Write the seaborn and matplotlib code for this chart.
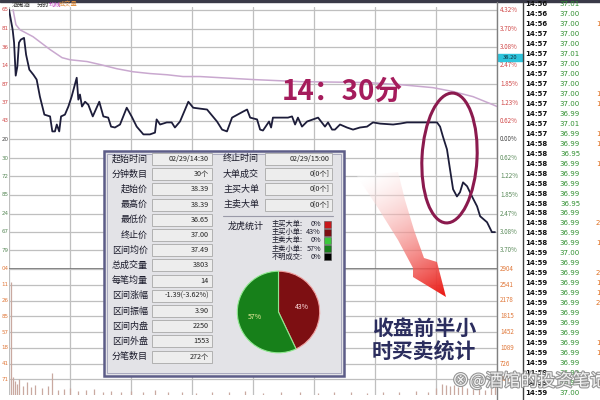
import numpy as np
import pandas as pd
import matplotlib
matplotlib.use("Agg")
import matplotlib.pyplot as plt
import seaborn as sns
from matplotlib.patches import Rectangle, Ellipse, Polygon
import matplotlib.patheffects as pe

sns.set_theme(style="white")
plt.rcParams['font.family'] = ['Noto Sans CJK SC', 'DejaVu Sans']

# ---- intraday price line (minute, % change) ----
price_min = [0, 1.8, 2.5, 3.3, 4.1, 4.9, 5.8, 7.4, 8.4, 10.0, 12.0, 13.6, 15.2, 17.4, 20.2,
             21.3, 22.6, 23.5, 24.7, 25.6, 27.5, 29.2, 30.8, 33.3, 34.1, 34.9, 35.9, 37.4,
             39.0, 41.2, 44.4, 46.4, 48.8, 50.2, 52.1, 54.6, 57.9, 60.3, 62.8, 66.1, 69.3,
             71.8, 72.6, 74.3, 77.6, 80.0, 81.6, 84.1, 86.6, 88.2, 90.6, 93.9, 97.4, 102.3,
             104.8, 107.2, 109.7, 115.1, 117.1, 118.6, 122.0, 123.5, 124.9, 127.9, 128.9,
             129.8, 133.3, 137.2, 139.2, 140.7, 142.1, 144.1, 146.6, 149.5, 152.0, 155.4,
             156.9, 158.9, 160.3, 162.8, 166.2, 169.2, 172.6, 176.1, 179.0, 182.5, 188.9,
             192.3, 195.7, 202.1, 207.0, 210.5, 212.0, 213.4, 215.4, 216.9, 218.4, 220.3,
             221.8, 223.3, 225.3, 227.7, 230.2, 231.7, 235.1, 237.5, 239.0]
price_pct = [4.33, 3.66, 3.23, 2.13, 2.43, 3.23, 3.33, 3.39, 2.83, 2.33, 2.16, 2.00, 1.43, 0.83,
             0.77, 0.27, 0.27, 0.50, 0.27, 0.77, 0.83, 1.10, 1.43, 2.06, 1.33, 1.50, 1.10, 1.26,
             1.16, 0.77, 1.26, 0.77, 0.73, 0.43, 0.40, 0.50, 1.06, 0.77, 0.43, 0.17, 0.17,
             0.23, 0.67, 0.50, 0.57, 0.57, 0.40, 0.60, 1.00, 1.26, 1.06, 1.03, 1.00, 0.60,
             0.33, 0.27, 0.73, 0.93, 1.00, 0.73, 0.67, 0.33, 0.30, 0.60, 0.40, 0.73, 0.73,
             0.73, 0.77, 0.50, 0.73, 0.43, 0.60, 0.67, 0.73, 0.43, 0.57, 0.33, 0.33, 0.50,
             0.40, 0.33, 0.40, 0.43, 0.57, 0.53, 0.50, 0.53, 0.57, 0.57, 0.57, 0.57, 0.43,
             0.10, -0.33, -1.00, -1.66, -1.90, -1.76, -1.43, -1.56, -1.90, -2.23, -2.56,
             -2.76, -3.09, -3.09]

# ---- average price line ----
avg_min = [2.0, 3.4, 5.4, 11.8, 20.2, 26.1, 30.0, 38.4, 44.8, 53.1, 61.0, 69.3, 77.7, 85.6,
           93.9, 120.0, 143.1, 176.1, 192.3, 208.5, 218.4, 228.2, 238.0, 240.0]
avg_pct = [4.33, 3.83, 3.66, 3.43, 3.00, 2.73, 2.66, 2.60, 2.50, 2.36, 2.26, 2.20, 2.16, 2.10,
           2.10, 2.00, 1.93, 1.90, 1.83, 1.73, 1.60, 1.43, 1.16, 1.10]

# ---- volume ----
vol_min = [1, 2, 3, 4, 5, 7, 9, 11, 13, 16, 19, 21, 24, 27, 30, 34, 38, 42, 46, 50, 55, 60, 66,
           72, 78, 85, 92, 100, 108, 116, 125, 134, 143, 152, 160, 168, 176, 184, 192, 200,
           206, 210, 213, 215, 217, 219, 221, 223, 225, 228, 231, 234, 237, 239]
vol_val = [2600, 420, 330, 250, 380, 210, 300, 180, 240, 150, 200, 510, 120, 140, 160, 90, 110,
           130, 80, 100, 70, 90, 60, 110, 70, 80, 50, 70, 60, 90, 50, 60, 70, 40, 60, 80, 50,
           70, 60, 90, 80, 150, 260, 230, 200, 240, 180, 210, 160, 140, 170, 120, 150, 220]

# ---- axis labels ----
pct_ticks = [4.32, 3.70, 3.08, 2.47, 1.85, 1.23, 0.62, 0.00, -0.62, -1.23, -1.85, -2.47, -3.08, -3.70]
pct_labels = ["4.32%", "3.70%", "3.08%", "2.47%", "1.85%", "1.23%", "0.62%", "0.00%",
              "0.62%", "1.22%", "1.85%", "2.47%", "3.08%", "3.70%"]
left_labels = ["65", "81", "36", "14", "87", "37", "43", "20", "30", "72", "85", "24", "67", "79"]
vol_ticks = [2904, 2541, 2178, 1815, 1452, 1089, 726, 363]
vol_left = ["04", "11", "26", "85", "57", "18", "41", "71"]

# ---- tick tape on the right ----
tape_time = ["14:56"] * 3 + ["14:57"] * 11 + ["14:58"] * 11 + ["14:59"] * 15
tape_price = ["37.01", "37.00", "37.00", "37.00", "37.00", "37.01", "37.00", "37.00", "37.00",
              "37.00", "37.00", "36.99", "37.01", "36.99", "36.99", "36.95", "36.99", "36.99",
              "36.99", "36.99", "36.95", "36.99", "36.99", "36.99", "36.99", "37.00", "36.99",
              "36.99", "36.99", "36.99", "36.99", "36.99", "36.99", "36.99", "36.99", "36.99",
              "36.99", "36.99", "36.99", "37.00"]
tape_vol = ["", "", "1", "", "", "", "", "", "", "1", "1", "", "", "1", "1", "", "1", "", "",
            "", "", "", "2", "", "1", "", "", "2", "1", "1", "2", "", "", "", "1", "1", "", "",
            "1", ""]

# ---- statistics panel ----
left_names = ["起始时间", "分钟数目", "起始价", "最高价", "最低价", "终止价", "区间均价",
              "总成交量", "每笔均量", "区间涨幅", "区间振幅", "区间内盘", "区间外盘", "分笔数目"]
left_values = ["02/29/14:30", "30个", "38.39", "38.39", "36.65", "37.00", "37.49", "3803",
               "14", "-1.39(-3.62%)", "3.90", "2250", "1553", "272个"]
right_names = ["终止时间", "大单成交", "主买大单", "主卖大单"]
right_values = ["02/29/15:00", "0[0个]", "0[0个]", "0[0个]"]
pie_names = ["主买大单", "主买小单", "主卖大单", "主卖小单", "不明成交"]
pie_share = [0, 43, 0, 57, 0]
pie_colors = ["#c8191c", "#7d0f12", "#3cc83c", "#17801a", "#000000"]

W, H = 600, 400


def px(x0, y0, x1, y1):
    return [x0 / W, 1 - y1 / H, (x1 - x0) / W, (y1 - y0) / H]


fig = plt.figure(figsize=(6, 4), dpi=100)
fig.patch.set_facecolor('white')

grid_c = '#bfbfbf'

# price panel
ax_p = fig.add_axes(px(9, 7, 497, 269))
ax_p.set_xlim(0, 240)
ax_p.set_ylim(-4.32, 4.42)
ax_p.set_xticks(np.arange(0, 241, 30))
ax_p.set_yticks(pct_ticks)
ax_p.grid(True, color=grid_c, lw=0.9)
ax_p.tick_params(length=0, labelleft=False, labelbottom=False)
for s in ax_p.spines.values():
    s.set_visible(False)
ax_p.axhline(-4.32, color='#707070', lw=1.2)

price_df = pd.DataFrame({'minute': price_min, 'pct': price_pct})
avg_df = pd.DataFrame({'minute': avg_min, 'pct': avg_pct})
sns.lineplot(data=avg_df, x='minute', y='pct', ax=ax_p, color='#c9a8cf', lw=1.1,
             estimator=None, sort=False)
sns.lineplot(data=price_df, x='minute', y='pct', ax=ax_p, color='#1d1d3a', lw=1.3,
             estimator=None, sort=False)
ax_p.set_xlabel('')
ax_p.set_ylabel('')

ytr = ax_p.get_yaxis_transform()
for v, lab, ll in zip(pct_ticks, pct_labels, left_labels):
    c = '#d04848' if v > 0 else ('#444444' if v == 0 else '#5a8a5a')
    ax_p.text(1.006, v, lab, transform=ytr, fontsize=4.5, color=c, va='center', ha='left')
    ax_p.text(-0.001, v, ll, transform=ytr, fontsize=4.0, color=c, va='center', ha='right',
              family='DejaVu Sans')

# volume panel
ax_v = fig.add_axes(px(9, 269, 497, 395))
ax_v.set_xlim(0, 240)
ax_v.set_ylim(0, 2904)
ax_v.set_xticks(np.arange(0, 241, 30))
ax_v.set_yticks(vol_ticks)
ax_v.grid(True, color=grid_c, lw=0.9)
ax_v.tick_params(length=0, labelleft=False, labelbottom=False)
for s in ax_v.spines.values():
    s.set_visible(False)
ax_v.vlines(vol_min, 0, vol_val, color='#c9a9a0', lw=0.9)
vtr = ax_v.get_yaxis_transform()
for v, ll in zip(vol_ticks, vol_left):
    ax_v.text(1.006, v, str(v), transform=vtr, fontsize=4.5, color='#e0783a', va='center')
    ax_v.text(-0.001, v, ll, transform=vtr, fontsize=4.0, color='#e0783a', va='center',
              ha='right', family='DejaVu Sans')

# overlay in pixel coordinates
ov = fig.add_axes([0, 0, 1, 1])
ov.set_xlim(0, W)
ov.set_ylim(H, 0)
ov.axis('off')
ov.patch.set_alpha(0)

ov.add_patch(Rectangle((0, 0), W, 2, color='#3a3a48'))
ov.text(12, 5, "酒鬼酒", fontsize=4.5, color='#333333', va='center')
ov.text(37, 5, "分时", fontsize=4.5, color='#333333', va='center')
ov.text(49, 5, "均线", fontsize=4.5, color='#c040c0', va='center')
ov.text(59, 5, "成交量", fontsize=4.5, color='#e09040', va='center')

ov.plot([497, 497], [2, 400], color='#808080', lw=1)
ov.plot([523, 523], [2, 400], color='#404040', lw=1)
ov.add_patch(Rectangle((498, 54), 25, 7, color='#2ec4dc'))
ov.text(510.5, 57.5, "38.20", fontsize=4.2, color='#103040', ha='center', va='center')

for i, (t, p, v) in enumerate(zip(tape_time, tape_price, tape_vol)):
    y = 4.5 + 9.95 * i
    ov.text(525, y, t, fontsize=5.0, color='#111111', fontweight='bold', va='center',
            family='DejaVu Sans')
    ov.text(570, y, p, fontsize=5.0, color='#2f8f2f', ha='center', va='center',
            family='DejaVu Sans')
    ov.text(596, y, v, fontsize=5.0, color='#e07020', va='center', family='DejaVu Sans')

# statistics dialog
ov.add_patch(Rectangle((104, 151), 240, 225, facecolor='#e3e3e7', edgecolor='#5d5d88', lw=1.8))
ov.add_patch(Rectangle((107, 154), 234, 219, fill=False, edgecolor='#a0a0b8', lw=0.6))
for i, (n, v) in enumerate(zip(left_names, left_values)):
    y = 159 + 15.2 * i
    ov.text(148, y, n, fontsize=6.5, color='#1a1a2a', ha='right', va='center')
    ov.add_patch(Rectangle((152, y - 6), 60, 12, facecolor='#ededed', edgecolor='#a8a8a8', lw=0.6))
    ov.text(209, y, v, fontsize=5.2, color='#222222', ha='right', va='center')
for i, (n, v) in enumerate(zip(right_names, right_values)):
    y = 159 + 15.2 * i
    ov.text(259, y, n, fontsize=6.5, color='#1a1a2a', ha='right', va='center')
    ov.add_patch(Rectangle((265, y - 6), 67, 12, facecolor='#ededed', edgecolor='#a8a8a8', lw=0.6))
    ov.text(330, y, v, fontsize=5.2, color='#222222', ha='right', va='center')
ov.plot([223, 333], [216, 216], color='#9a9aa8', lw=0.8)
ov.text(228, 226, "龙虎统计", fontsize=6.5, color='#1a1a2a', va='center')
for i, (n, s, c) in enumerate(zip(pie_names, pie_share, pie_colors)):
    y = 224 + 8.2 * i
    ov.text(272, y, n + ":", fontsize=5.2, color='#1a1a2a', va='center')
    ov.text(321, y, f"{s}%", fontsize=5.2, color='#1a1a2a', va='center', ha='right')
    ov.add_patch(Rectangle((324, y - 3.5), 7, 7, facecolor=c, edgecolor='#555555', lw=0.4))

# big annotations
ov.add_patch(Ellipse((449.5, 158), 55, 130, angle=3, fill=False, edgecolor='#8b1a4e', lw=2.2))
ov.text(342, 92, "14：30分", fontsize=20, color='#a51c5c', fontweight='bold',
        ha='center', va='center')
ov.text(424, 340, "收盘前半小\n时买卖统计", fontsize=15, color='#2b2d5e', fontweight='bold',
        ha='center', va='center', linespacing=1.15)

arrow = Polygon([(357, 176), (398, 172), (405, 200), (414, 230), (424, 258), (437, 262),
                 (446, 297), (413, 277), (413, 268), (398, 240), (378, 208)],
                closed=True, fill=False, edgecolor='none')
ov.add_patch(arrow)
gx, gy = np.meshgrid(np.linspace(355, 448, 120), np.linspace(168, 300, 160))
d = np.array([70.0, 120.0])
t = ((gx - 372) * d[0] + (gy - 175) * d[1]) / (d @ d)
t = np.clip(t, 0, 1)
rgba = np.zeros(gx.shape + (4,))
rgba[..., 0] = 1 - 0.08 * t
rgba[..., 1] = 1 - 0.88 * t
rgba[..., 2] = 1 - 0.9 * t
rgba[..., 3] = 0.35 + 0.65 * t
im = ov.imshow(rgba, extent=(355, 448, 300, 168), origin='upper', aspect='auto', zorder=3)
im.set_clip_path(arrow)
ov.set_xlim(0, W)
ov.set_ylim(H, 0)

ov.text(452, 381, "⊗@酒馆的投资笔记", fontsize=12.5, color='white', alpha=0.9, va='center',
        path_effects=[pe.withStroke(linewidth=1.6, foreground='#8a8a8a')])

# pie
ax_pie = fig.add_axes(px(227, 261, 330, 363))
nz = [(s, c) for s, c in zip(pie_share, pie_colors) if s > 0]
wedges, _, autotexts = ax_pie.pie([s for s, _ in nz], colors=[c for _, c in nz], startangle=90,
                                  counterclock=False, autopct='%.0f%%', pctdistance=0.58,
                                  wedgeprops=dict(edgecolor='#e8dc90', linewidth=0.8),
                                  textprops=dict(fontsize=5))
wedges[0].set_edgecolor('#f0a0a0')
wedges[1].set_edgecolor('#90e890')
autotexts[0].set_color('#ffe0e0')
autotexts[1].set_color('#f0f0a0')
ax_pie.set_aspect('auto')

fig.savefig('out.png', dpi=100)
